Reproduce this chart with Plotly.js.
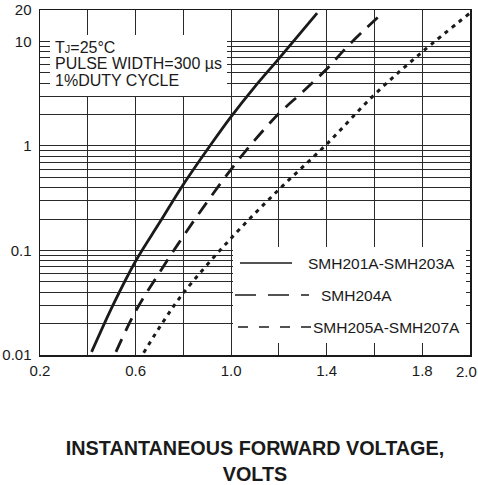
<!DOCTYPE html>
<html>
<head>
<meta charset="utf-8">
<script src="https://cdn.plot.ly/plotly-3.0.1.min.js"></script>
<style>
  html, body { margin: 0; padding: 0; background: #ffffff; }
  #chart { width: 478px; height: 485px; }
</style>
</head>
<body>
<div id="chart"></div>
<script>
// ---- data (forward voltage V, forward current A) ----
const seriesNames = ["SMH201A-SMH203A", "SMH204A", "SMH205A-SMH207A"];
const vSolid = [0.416, 0.506, 0.60, 0.702, 0.80, 0.925, 1.00, 1.098, 1.20, 1.36];
const iSolid = [0.0107, 0.0302, 0.079, 0.187, 0.428, 1.11, 1.91, 3.66, 6.86, 18.7];
const vDash = [0.518, 0.60, 0.702, 0.80, 0.90, 1.00, 1.098, 1.20, 1.30, 1.40, 1.492, 1.633];
const iDash = [0.0107, 0.0262, 0.0625, 0.137, 0.292, 0.598, 1.13, 2.04, 3.30, 5.45, 9.2, 18.7];
const vDot = [0.634, 0.715, 0.80, 1.00, 1.20, 1.40, 1.60, 1.80, 2.00];
const iDot = [0.0105, 0.0207, 0.0391, 0.131, 0.383, 1.04, 3.10, 7.94, 18.7];

const xTickVals = [0.2, 0.6, 1.0, 1.4, 1.8, 2.0];
const xTickText = ["0.2", "0.6", "1.0", "1.4", "1.8", "2.0"];
const yTickVals = [0.01, 0.1, 1, 10, 20];
const yTickText = ["0.01", "0.1", "1", "10", "20"];

const noteLines = ["T<span style=\"font-size:11px\">J</span>=25°C", "PULSE WIDTH=300 µs", "1%DUTY CYCLE"];
const xTitle = "INSTANTANEOUS FORWARD VOLTAGE,<br>VOLTS";

// ---- layout helpers (pixel -> paper) ----
const W = 478, H = 485;
const M = {l: 40, r: 8, t: 10, b: 130};
const PW = W - M.l - M.r, PH = H - M.t - M.b;
const px = p => (p - M.l) / PW;
const py = p => (H - M.b - p) / PH;

// minor log grid (2..9 in each decade)
const minorY = [];
[0.01, 0.1, 1, 10].forEach(d => { for (let k = 2; k <= 9; k++) minorY.push(+(d * k).toPrecision(3)); });

const ink = "#1a1a1a";
const font = "'Liberation Sans', Arial, sans-serif";

const traces = [
  {x: vSolid, y: iSolid, name: seriesNames[0], mode: "lines",
   line: {color: ink, width: 2.8, shape: "spline", smoothing: 1}},
  {x: vDash, y: iDash, name: seriesNames[1], mode: "lines",
   line: {color: ink, width: 2.8, dash: "14px,9px", shape: "spline", smoothing: 1}},
  {x: vDot, y: iDot, name: seriesNames[2], mode: "lines",
   line: {color: ink, width: 3, dash: "4px,5px", shape: "spline", smoothing: 1}}
];

const gridCol = "#2a2a2a";

const shapes = [
  // white boxes hiding grid behind note and legend
  {type: "rect", xref: "paper", yref: "paper", x0: px(50), x1: px(227), y0: py(96), y1: py(35),
   fillcolor: "#ffffff", line: {width: 0}, layer: "above"},
  {type: "rect", xref: "paper", yref: "paper", x0: px(233), x1: px(466), y0: py(343), y1: py(247),
   fillcolor: "#ffffff", line: {width: 0}, layer: "above"},
  // legend keys
  {type: "line", xref: "paper", yref: "paper", x0: px(240), x1: px(292), y0: py(263), y1: py(263),
   line: {color: ink, width: 1.3}, layer: "above"},
  {type: "line", xref: "paper", yref: "paper", x0: px(235), x1: px(309), y0: py(295), y1: py(295),
   line: {color: ink, width: 1.3, dash: "21px,12px"}, layer: "above"},
  {type: "line", xref: "paper", yref: "paper", x0: px(238), x1: px(311), y0: py(327), y1: py(327),
   line: {color: ink, width: 1.3, dash: "10px,11px"}, layer: "above"}
];

const noteFont = {family: font, size: 16, color: ink};
const legFont = {family: font, size: 15.5, color: ink};
const tickFont = {family: font, size: 15, color: ink};
const annotations = [];
[48, 64, 80].forEach((yy, i) => annotations.push({
  xref: "paper", yref: "paper", x: px(54), y: py(yy), xanchor: "left", yanchor: "middle",
  text: noteLines[i], showarrow: false, font: noteFont, borderpad: 0
}));
[[307, 263], [320, 295], [312, 327]].forEach((p, i) => annotations.push({
  xref: "paper", yref: "paper", x: px(p[0]), y: py(p[1]), xanchor: "left", yanchor: "middle",
  text: seriesNames[i], showarrow: false, font: legFont, borderpad: 0
}));
// last x tick label, kept inside the page edge
const lastTick = xTickText[xTickText.length - 1];
annotations.push({
  xref: "paper", yref: "paper", x: 1, y: py(371), xanchor: "right", yanchor: "middle", xshift: 8,
  text: lastTick, showarrow: false, font: tickFont, borderpad: 0
});
const xTickShown = xTickText.map((t, i) => i === xTickText.length - 1 ? "" : t);

const layout = {
  width: W, height: H,
  margin: M,
  paper_bgcolor: "#ffffff", plot_bgcolor: "#ffffff",
  showlegend: false,
  font: {family: font, size: 15, color: ink},
  xaxis: {
    range: [0.2, 2.0], tickmode: "array", tickvals: xTickVals, ticktext: xTickShown,
    showgrid: true, gridcolor: gridCol, gridwidth: 1,
    minor: {tick0: 0.2, dtick: 0.2, showgrid: true, gridcolor: gridCol, gridwidth: 1, ticks: ""},
    showline: true, mirror: true, linecolor: ink, linewidth: 1.5,
    ticks: "", ticklabelstandoff: 1, zeroline: false,
    tickfont: tickFont,
    title: {text: xTitle, font: {family: font, size: 19.8, color: ink, weight: "bold"}, standoff: 70}
  },
  yaxis: {
    type: "log", range: [-2, Math.log10(20)], tickmode: "array", tickvals: yTickVals, ticktext: yTickText,
    showgrid: true, gridcolor: gridCol, gridwidth: 1,
    minor: {tickmode: "array", tickvals: minorY, showgrid: true, gridcolor: gridCol, gridwidth: 1, ticks: ""},
    showline: true, mirror: true, linecolor: ink, linewidth: 1.5,
    ticks: "", ticklabelstandoff: 4, ticklabeloverflow: "allow", zeroline: false,
    tickfont: tickFont
  },
  shapes: shapes,
  annotations: annotations
};

Plotly.newPlot("chart", traces, layout, {staticPlot: true, displayModeBar: false});
</script>
</body>
</html>
